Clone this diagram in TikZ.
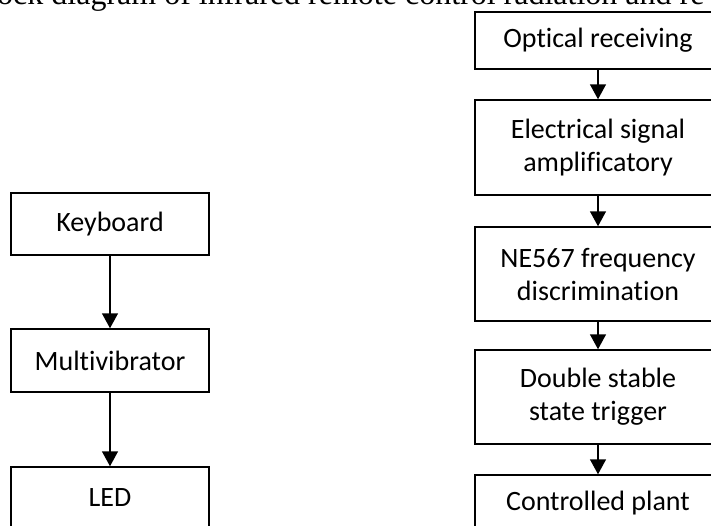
\documentclass[tikz,border=0pt]{standalone}
\usepackage{fontspec}
\setmainfont{Liberation Serif}
\newfontfamily\boxfont[Ligatures={NoCommon}]{Carlito}
\usetikzlibrary{arrows.meta}
\tikzset{
  blk/.style={draw=black, line width=1.5pt, inner sep=0pt, align=center,
    font=\boxfont\fontsize{28}{33}\selectfont},
  lbox/.style={blk, minimum width=198pt},
  rbox/.style={blk, minimum width=246pt},
  arr/.style={line width=1.5pt, -{Triangle[length=15pt,width=16pt]}},
  ttl/.style={inner sep=0pt, font=\fontsize{32}{37}\selectfont}
}
\begin{document}
\begin{tikzpicture}[x=1pt,y=-1pt]
\useasboundingbox (0,0) rectangle (711,525);
\clip (0,0) rectangle (711,525);
\node[ttl, anchor=base west] (title) at (-3,4) {ock diagram of infrared remote control radiation and re};
% left column
\node[lbox, minimum height=62pt] (kb) at (110,224) {Keyboard};
\node[lbox, minimum height=63pt] (mv) at (110,360.5) {Multivibrator};
\node[lbox, minimum height=62pt] (led) at (110,498) {LED};
% right column
\node[rbox, minimum height=57pt] (opt) at (598,40.5) {Optical receiving};
\node[rbox, minimum height=95pt] (ele) at (598,147.5) {Electrical signal\\amplificatory};
\node[rbox, minimum height=94pt] (ne) at (598,274) {NE567 frequency\\discrimination};
\node[rbox, minimum height=94pt] (dbl) at (598,397) {Double stable\\state trigger};
\node[rbox, minimum height=57pt] (ctl) at (598,503.5) {Controlled plant};
% connectors
\draw[arr] (kb) -- (mv);
\draw[arr] (mv) -- (led);
\draw[arr] (opt) -- (ele);
\draw[arr] (ele) -- (ne);
\draw[arr] (ne) -- (dbl);
\draw[arr] (dbl) -- (ctl);
\end{tikzpicture}
\end{document}
